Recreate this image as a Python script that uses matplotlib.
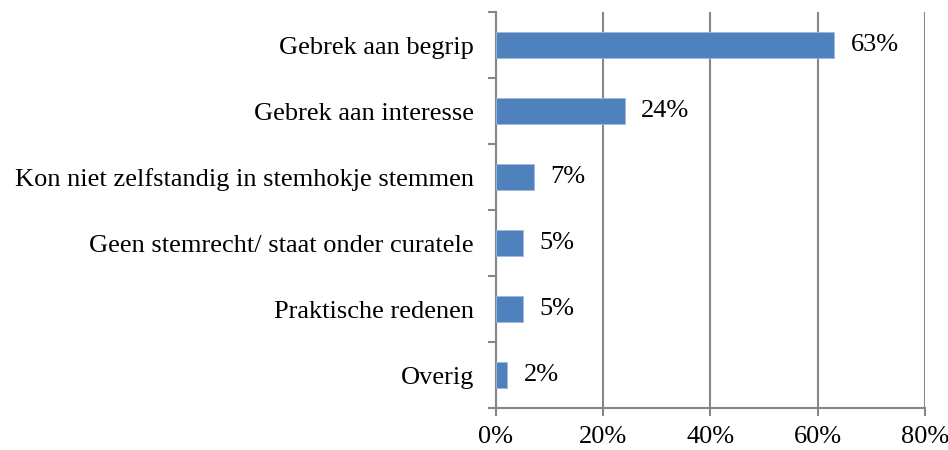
import matplotlib
matplotlib.use("Agg")
import matplotlib.pyplot as plt
from matplotlib.ticker import FixedLocator, PercentFormatter

plt.rcParams['font.family'] = ['Liberation Serif', 'DejaVu Serif']

# redenen om niet te stemmen, van boven naar beneden
categories = [
    'Gebrek aan begrip',
    'Gebrek aan interesse',
    'Kon niet zelfstandig in stemhokje stemmen',
    'Geen stemrecht/ staat onder curatele',
    'Praktische redenen',
    'Overig',
]
percentages = [63, 24, 7, 5, 5, 2]

grey = '#868686'
bar_color = '#4F81BD'
fs = 19

fig = plt.figure(figsize=(9.48, 4.5), dpi=100)
ax = fig.add_axes([0.5232, 0.0933, 0.4525, 0.88])

pos = list(range(len(categories)))[::-1]
bars = ax.barh(pos, percentages, height=0.4, color=bar_color,
               edgecolor='#9DB9DE', linewidth=0.6, zorder=3)

for b, v in zip(bars, percentages):
    ax.annotate(f'{v}%', (b.get_width(), b.get_y() + b.get_height() / 2),
                xytext=(12, 0), textcoords='offset points',
                ha='left', va='center', fontsize=fs)

ax.set_xlim(0, 80)
ax.set_ylim(-0.5, len(categories) - 0.5)
ax.set_xticks([0, 20, 40, 60, 80])
ax.xaxis.set_major_formatter(PercentFormatter(decimals=0))
ax.set_yticks(pos)
ax.set_yticklabels(categories)
ax.yaxis.set_minor_locator(FixedLocator([p + 0.5 for p in range(-1, len(categories))]))

ax.tick_params(axis='y', which='major', length=0, pad=16, labelsize=fs)
ax.tick_params(axis='y', which='minor', length=6, width=1.5, color=grey)
ax.tick_params(axis='x', length=6, width=1.5, color=grey, labelsize=fs, pad=7)

ax.grid(axis='x', color=grey, linewidth=1.5, zorder=0)
for side in ['top', 'right']:
    ax.spines[side].set_visible(False)
for side in ['left', 'bottom']:
    ax.spines[side].set_color(grey)
    ax.spines[side].set_linewidth(1.5)

fig.savefig('out.png', dpi=100)
